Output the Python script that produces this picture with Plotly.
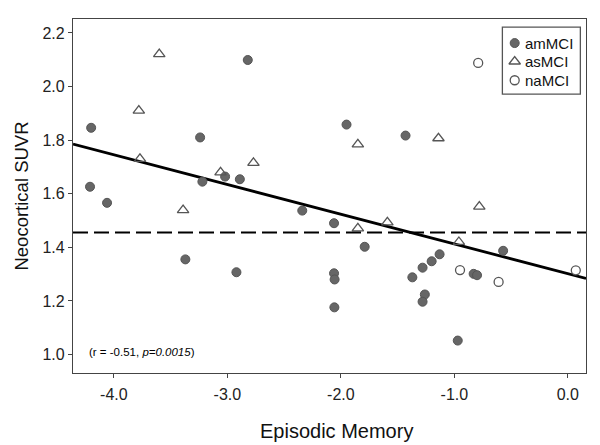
import plotly.graph_objects as go

# ---- data ----
am_x = [-4.20, -3.24, -2.82, -3.02, -2.89, -3.22, -4.21, -1.95, -1.43, -4.06,
        -3.37, -2.92, -2.34, -2.06, -1.79, -2.06, -2.055, -2.057, -1.37, -1.28,
        -1.20, -1.13, -0.83, -0.80, -0.57, -1.26, -1.28, -0.97]
am_y = [1.846, 1.810, 2.099, 1.664, 1.654, 1.645, 1.626, 1.858, 1.817, 1.566,
        1.355, 1.307, 1.537, 1.490, 1.402, 1.303, 1.280, 1.176, 1.288, 1.324,
        1.348, 1.374, 1.301, 1.296, 1.387, 1.224, 1.197, 1.052]

as_x = [-3.60, -3.78, -3.77, -3.06, -2.77, -1.85, -1.14, -3.39, -1.85, -1.59, -0.78, -0.96]
as_y = [2.121, 1.910, 1.730, 1.680, 1.715, 1.784, 1.807, 1.539, 1.471, 1.493, 1.552, 1.420]

na_x = [-0.79, -0.95, -0.61, 0.07]
na_y = [2.088, 1.315, 1.271, 1.314]

fit_x = [-4.36, 0.16]
fit_y = [1.785, 1.284]

cutoff = 1.455

x_ticks = [-4.0, -3.0, -2.0, -1.0, 0.0]
y_ticks = [1.0, 1.2, 1.4, 1.6, 1.8, 2.0, 2.2]

group_names = ["amMCI", "asMCI", "naMCI"]

font_family = "Liberation Sans, Arial, sans-serif"
gray = "#666666"
edge = "#555555"

am_marker = dict(symbol="circle", size=9, color=gray, line=dict(color=edge, width=1))
as_marker = dict(symbol="triangle-up-open", size=10, color=edge, line=dict(color=edge, width=1.3))
na_marker = dict(symbol="circle", size=9, color="white", line=dict(color=edge, width=1.3))

fig = go.Figure()

fig.add_trace(go.Scatter(x=fit_x, y=fit_y, mode="lines",
                         line=dict(color="black", width=2.8),
                         showlegend=False, hoverinfo="skip"))

fig.add_trace(go.Scatter(x=am_x, y=am_y, mode="markers", name=group_names[0],
                         marker=am_marker, showlegend=False))
fig.add_trace(go.Scatter(x=as_x, y=as_y, mode="markers", name=group_names[1],
                         marker=as_marker, showlegend=False))
fig.add_trace(go.Scatter(x=na_x, y=na_y, mode="markers", name=group_names[2],
                         marker=na_marker, showlegend=False))

fig.add_hline(y=cutoff, line=dict(color="black", width=2, dash="15px,6px"))

# ---- custom legend (box, symbols on an overlay axis, labels) ----
leg_x0, leg_x1, leg_y0, leg_y1 = 0.837, 0.989, 0.788, 0.977
leg_sym_x = 0.861
leg_txt_x = 0.878
leg_rows = [0.932, 0.880, 0.827]

fig.add_shape(type="rect", xref="paper", yref="paper",
              x0=leg_x0, x1=leg_x1, y0=leg_y0, y1=leg_y1,
              line=dict(color="#555555", width=1.3), fillcolor="white", layer="below")

for m, yy in zip([am_marker, as_marker, na_marker], leg_rows):
    fig.add_trace(go.Scatter(x=[leg_sym_x], y=[yy], mode="markers", marker=m,
                             xaxis="x2", yaxis="y2", showlegend=False, hoverinfo="skip"))
for name, yy in zip(group_names, leg_rows):
    fig.add_annotation(x=leg_txt_x, y=yy, xref="paper", yref="paper",
                       xanchor="left", yanchor="middle", showarrow=False,
                       text=name, font=dict(size=15, color="#111111", family=font_family))

fig.add_annotation(x=0.027, y=0.059, xref="paper", yref="paper",
                   xanchor="left", yanchor="middle", showarrow=False,
                   text="(r = -0.51, <i>p=0.0015</i>)",
                   font=dict(size=11.5, color="black", family=font_family))

# x-axis title
fig.add_annotation(x=0.513, y=-0.163, xref="paper", yref="paper",
                   xanchor="center", yanchor="middle", showarrow=False,
                   text="Episodic Memory",
                   font=dict(size=20, color="#111111", family=font_family))

axis_common = dict(showgrid=False, zeroline=False, showline=True,
                   linecolor="#444444", linewidth=1.3, mirror=True,
                   ticks="outside", ticklen=4, tickcolor="#444444", automargin=False,
                   tickfont=dict(size=16, color="#222222", family=font_family))

fig.update_xaxes(range=[-4.36, 0.16], tickvals=x_ticks,
                 ticktext=[f"{v:.1f}" for v in x_ticks],
                 ticklabelstandoff=3,
                 **axis_common)
fig.update_yaxes(range=[0.931, 2.252], tickvals=y_ticks,
                 ticktext=[f"{v:.1f}" for v in y_ticks],
                 title=dict(text="Neocortical SUVR", standoff=8,
                            font=dict(size=18.5, color="#111111", family=font_family)),
                 **axis_common)

fig.update_layout(
    width=592, height=437,
    margin=dict(l=65, r=14, t=11, b=72),
    paper_bgcolor="white", plot_bgcolor="white",
    font=dict(family=font_family, color="#111111"),
    showlegend=False,
    xaxis2=dict(overlaying="x", range=[0, 1], visible=False, anchor="y2"),
    yaxis2=dict(overlaying="y", range=[0, 1], visible=False, anchor="x2"),
)

fig.write_html("out.html")
